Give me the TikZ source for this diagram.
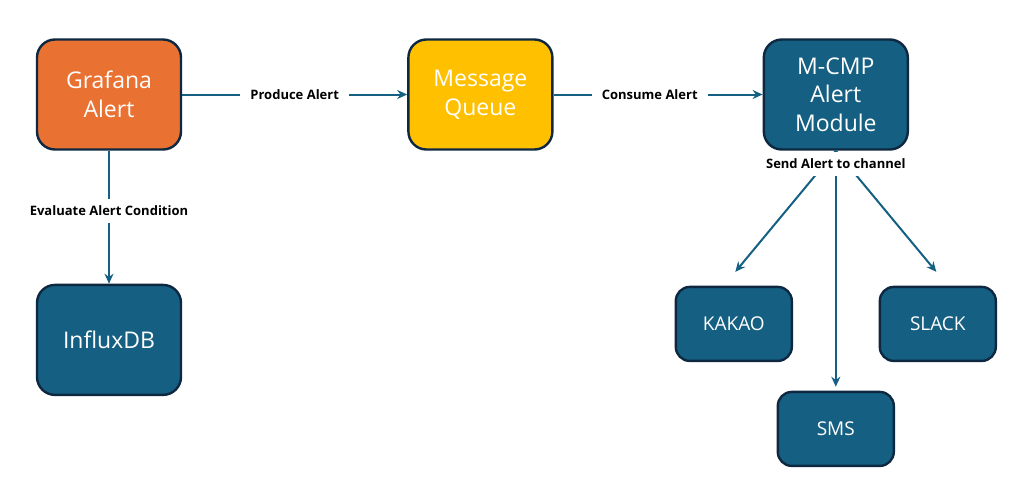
\documentclass[tikz,border=0pt]{standalone}
\usepackage{fontspec}
\setmainfont{Open Sans}
\usetikzlibrary{positioning,arrows.meta}
\definecolor{gforange}{HTML}{E97132}
\definecolor{mqyellow}{HTML}{FFC000}
\definecolor{boxblue}{HTML}{156082}
\definecolor{boxline}{HTML}{0E2841}

\begin{document}
\begin{tikzpicture}[node distance=112.5pt,
    block/.style={rectangle, draw=boxline, line width=1.2pt, fill=boxblue, text=white, align=center, rounded corners=9pt, minimum width=72pt, minimum height=55pt, font=\fontsize{11.5}{14.3}\selectfont},
    channel/.style={block, minimum width=58pt, minimum height=37pt, rounded corners=7pt, font=\fontsize{9.5}{11}\selectfont},
    arrow/.style={line width=1pt, draw=boxblue, -{Stealth[length=5pt,width=4.5pt]}},
    lbl/.style={fill=white, text=black, font=\fontsize{6.5}{8}\selectfont\bfseries, inner xsep=5pt, inner ysep=3.5pt}]

    \useasboundingbox (0,0) rectangle (516pt,-250pt);

    \node[block, fill=gforange] (grafana) at (54.5pt,-47.25pt) {Grafana\\Alert};
    \node[block, fill=mqyellow, right=of grafana] (mq) {Message\\Queue};
    \node[block, right=104.5pt of mq] (mcmp) {M-CMP\\Alert\\Module};
    \node[block, below=66.5pt of grafana] (influx) {InfluxDB};
    \node[channel, below=67.5pt of mcmp, xshift=-51pt] (kakao) {KAKAO};
    \node[channel, below=67.5pt of mcmp, xshift=51pt] (slack) {SLACK};
    \node[channel, below=120pt of mcmp] (sms) {SMS};

    \draw[arrow] (grafana) -- node[lbl] {Produce Alert} (mq);
    \draw[arrow] (mq) -- node[lbl, pos=0.46] {Consume Alert} (mcmp);
    \draw[arrow] (grafana) -- node[lbl, pos=0.45] {Evaluate Alert Condition} (influx);

    % channels
    \draw[arrow, shorten >=9pt] (mcmp.south) -- ([xshift=-5pt]kakao.north);
    \draw[arrow, shorten >=2pt] (mcmp.south) -- (sms.north);
    \draw[arrow, shorten >=9pt] (mcmp.south) -- ([xshift=5pt]slack.north);
    \node[lbl, below=0.5pt of mcmp] (send) {Send Alert to channel};

\end{tikzpicture}
\end{document}
